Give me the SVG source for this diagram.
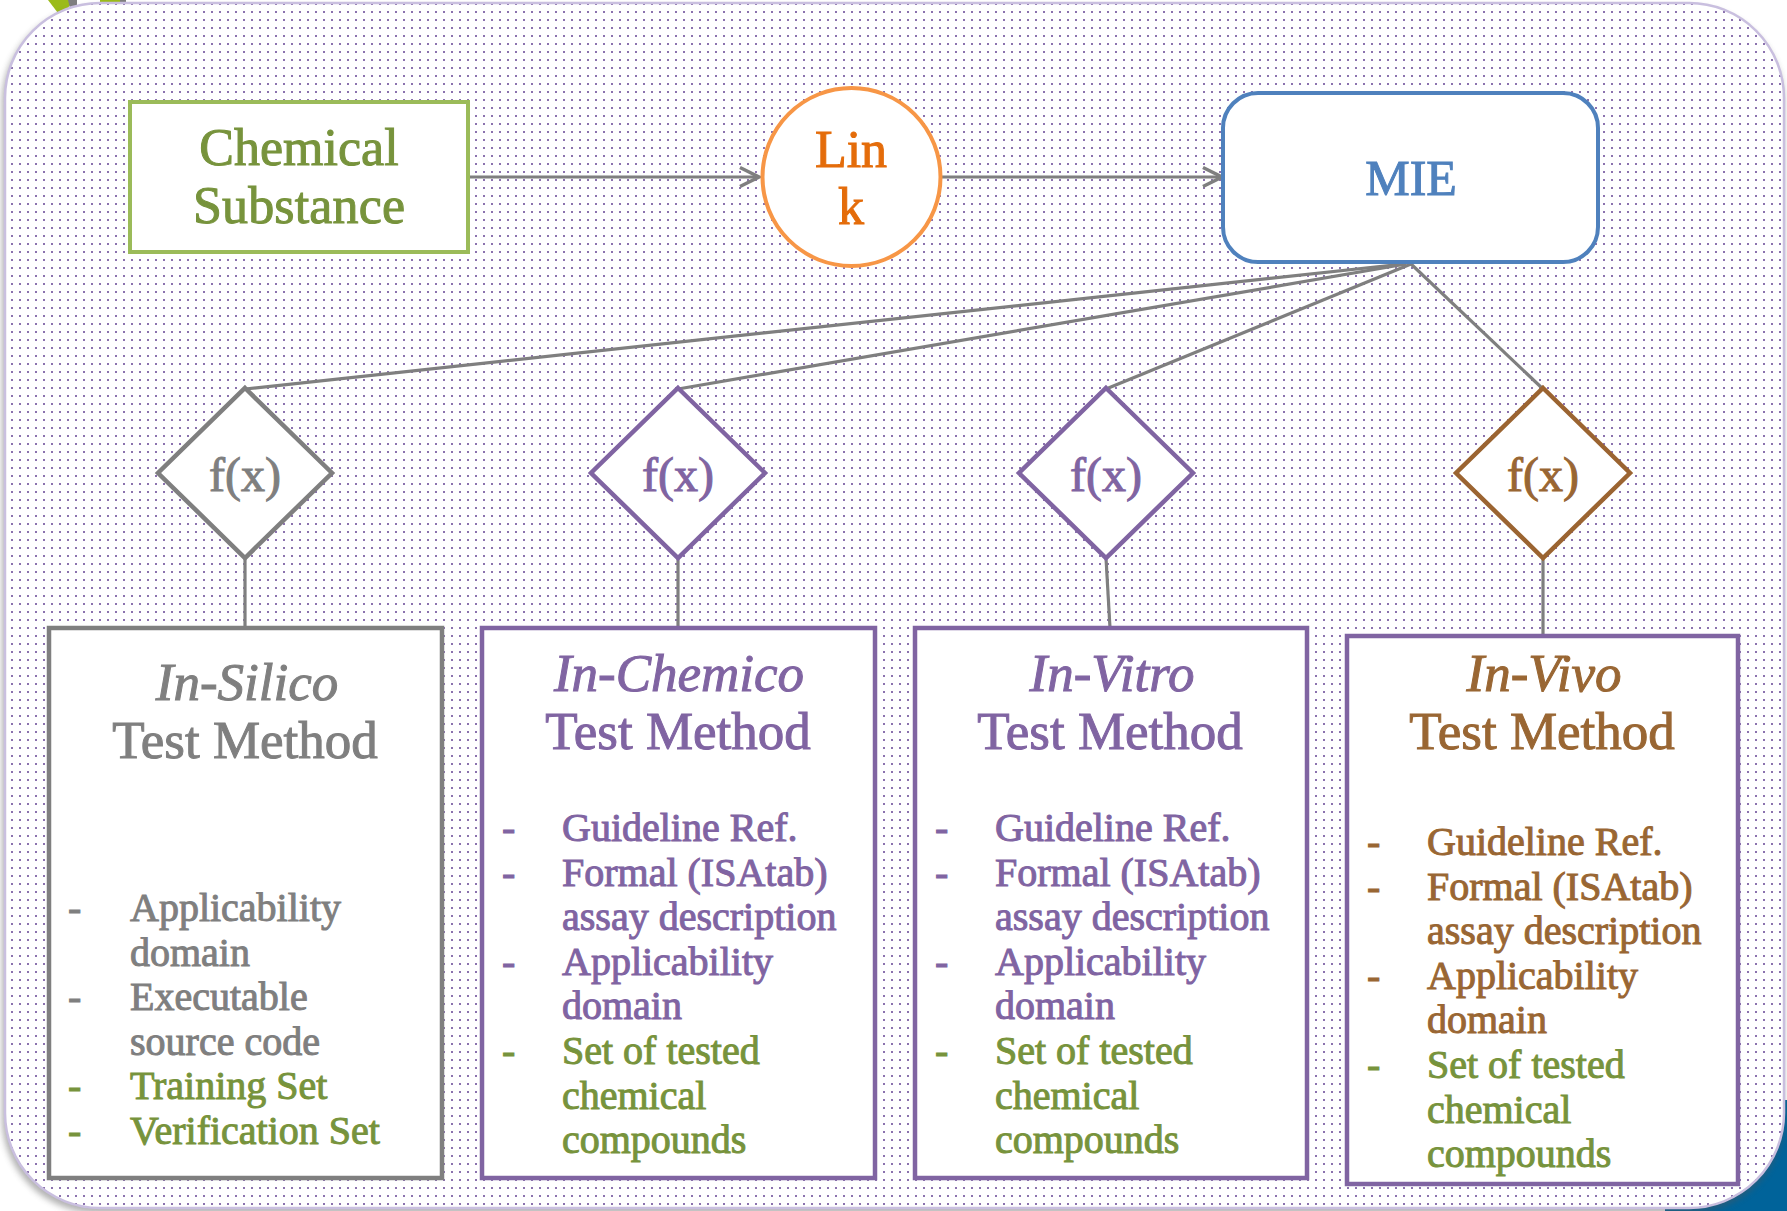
<svg xmlns="http://www.w3.org/2000/svg" width="1787" height="1211" viewBox="0 0 1787 1211">
<defs>
<pattern id="dots" width="8" height="8" patternUnits="userSpaceOnUse"><rect x="3" y="3" width="2" height="2" fill="#8b72ae"/></pattern>
<filter id="sh" x="-5%" y="-5%" width="110%" height="110%"><feGaussianBlur stdDeviation="3"/></filter>
<marker id="arr" markerUnits="userSpaceOnUse" markerWidth="24" markerHeight="24" viewBox="0 0 24 24" refX="21" refY="12" orient="auto"><path d="M2,2.5 L21,12 L2,21.5" fill="none" stroke="#7f7f7f" stroke-width="3.5"/></marker>
<style>
text{font-family:"Liberation Serif","Times New Roman",serif;stroke-width:1;paint-order:stroke}
.big{font-size:52px}
.hd{font-size:53px;text-anchor:middle}
.it{font-style:italic}
.fx{font-size:48px;text-anchor:middle}
.li{font-size:40px}
.gray{fill:#7f7f7f;stroke:#7f7f7f}
.pur{fill:#8064a2;stroke:#8064a2}
.grn{fill:#77933c;stroke:#77933c}
.brn{fill:#996633;stroke:#996633}
.org{fill:#e46c0a;stroke:#e46c0a}
.blu{fill:#4f81bd;stroke:#4f81bd}
.conn{stroke:#7f7f7f;stroke-width:3.2;fill:none}
.box{fill:#fff;stroke-width:4.5}
</style>
</defs>
<rect width="1787" height="1211" fill="#fff"/>
<!-- decorations outside the panel -->
<polygon points="48,0 74,0 61,17" fill="#9bbb1a"/>
<polygon points="68,0 77,0 77,14 70,8" fill="#7f7f7f"/>
<rect x="100" y="0" width="20" height="8" fill="#9bbb1a"/>
<rect x="120" y="0" width="6" height="8" fill="#7f7f7f"/>
<rect x="1665" y="1100" width="122" height="111" fill="#00639a"/>
<!-- panel -->
<rect x="2" y="7" width="1782" height="1206" rx="95" fill="#555" opacity="0.45" filter="url(#sh)"/>
<rect x="5" y="3" width="1779" height="1205" rx="95" fill="#fff"/>
<rect x="5" y="3" width="1779" height="1205" rx="95" fill="url(#dots)" stroke="#c9bfdf" stroke-width="2.5"/>

<g id="connectors">
<line class="conn" x1="468" y1="177" x2="759" y2="177" marker-end="url(#arr)"/>
<line class="conn" x1="942" y1="177" x2="1222" y2="177" marker-end="url(#arr)"/>
<line class="conn" x1="1403" y1="264" x2="245" y2="389"/>
<line class="conn" x1="1406" y1="264" x2="678" y2="389"/>
<line class="conn" x1="1411" y1="264" x2="1106" y2="389"/>
<line class="conn" x1="1411" y1="264" x2="1543" y2="389"/>
<line class="conn" x1="245" y1="558" x2="245" y2="628"/>
<line class="conn" x1="678" y1="558" x2="678" y2="628"/>
<line class="conn" x1="1106" y1="558" x2="1110" y2="628"/>
<line class="conn" x1="1543" y1="558" x2="1543" y2="636"/>
</g>

<g id="chemical-substance">
<rect x="130" y="102" width="338" height="150" fill="#fff" stroke="#9bbb59" stroke-width="4"/>
<text class="big grn" x="299" y="165" text-anchor="middle">Chemical</text>
<text class="big grn" x="299" y="223" text-anchor="middle" textLength="212" lengthAdjust="spacing">Substance</text>
</g>

<g id="link">
<circle cx="851.5" cy="177" r="89" fill="#fff" stroke="#f79646" stroke-width="4"/>
<text class="big org" x="851" y="167" text-anchor="middle">Lin</text>
<text class="big org" x="851" y="224" text-anchor="middle">k</text>
</g>

<g id="mie">
<rect x="1223" y="93" width="375" height="169" rx="35" fill="#fff" stroke="#4f81bd" stroke-width="4"/>
<text class="blu" x="1411" y="195" font-size="50" text-anchor="middle">MIE</text>
</g>

<g id="fx-silico">
<polygon points="245,388 332,473 245,558 158,473" fill="#fff" stroke="#7f7f7f" stroke-width="4.5"/>
<text class="fx gray" x="245" y="491">f(x)</text>
</g>
<g id="fx-chemico">
<polygon points="678,388 765,473 678,558 591,473" fill="#fff" stroke="#8064a2" stroke-width="4.5"/>
<text class="fx pur" x="678" y="491">f(x)</text>
</g>
<g id="fx-vitro">
<polygon points="1106,388 1193,473 1106,558 1019,473" fill="#fff" stroke="#8064a2" stroke-width="4.5"/>
<text class="fx pur" x="1106" y="491">f(x)</text>
</g>
<g id="fx-vivo">
<polygon points="1543,388 1630,473 1543,558 1456,473" fill="#fff" stroke="#9b6431" stroke-width="4.5"/>
<text class="fx brn" x="1543" y="491">f(x)</text>
</g>

<g id="in-silico">
<rect class="box" x="49" y="628" width="393" height="550" stroke="#7f7f7f"/>
<text class="hd it gray" x="247" y="700">In-Silico</text>
<text class="hd gray" x="245" y="758">Test Method</text>
<g class="li">
<text class="gray" x="68" y="921">-</text><text class="gray" x="130" y="921">Applicability</text>
<text class="gray" x="130" y="965.5">domain</text>
<text class="gray" x="68" y="1010">-</text><text class="gray" x="130" y="1010">Executable</text>
<text class="gray" x="130" y="1054.5">source code</text>
<text class="grn" x="68" y="1099">-</text><text class="grn" x="130" y="1099">Training Set</text>
<text class="grn" x="68" y="1143.5">-</text><text class="grn" x="130" y="1143.5">Verification Set</text>
</g>
</g>

<g id="in-chemico">
<rect class="box" x="482" y="628" width="393" height="550" stroke="#8064a2"/>
<text class="hd it pur" x="679" y="691">In-Chemico</text>
<text class="hd pur" x="678" y="749">Test Method</text>
<g class="li">
<text class="pur" x="502" y="841">-</text><text class="pur" x="562" y="841">Guideline Ref.</text>
<text class="pur" x="502" y="885.6">-</text><text class="pur" x="562" y="885.6">Formal (ISAtab)</text>
<text class="pur" x="562" y="930.2">assay description</text>
<text class="pur" x="502" y="974.8">-</text><text class="pur" x="562" y="974.8">Applicability</text>
<text class="pur" x="562" y="1019.4">domain</text>
<text class="grn" x="502" y="1064">-</text><text class="grn" x="562" y="1064">Set of tested</text>
<text class="grn" x="562" y="1108.6">chemical</text>
<text class="grn" x="562" y="1153.2">compounds</text>
</g>
</g>

<g id="in-vitro">
<rect class="box" x="915" y="628" width="392" height="550" stroke="#8064a2"/>
<text class="hd it pur" x="1112" y="691">In-Vitro</text>
<text class="hd pur" x="1110" y="749">Test Method</text>
<g class="li">
<text class="pur" x="935" y="841">-</text><text class="pur" x="995" y="841">Guideline Ref.</text>
<text class="pur" x="935" y="885.6">-</text><text class="pur" x="995" y="885.6">Formal (ISAtab)</text>
<text class="pur" x="995" y="930.2">assay description</text>
<text class="pur" x="935" y="974.8">-</text><text class="pur" x="995" y="974.8">Applicability</text>
<text class="pur" x="995" y="1019.4">domain</text>
<text class="grn" x="935" y="1064">-</text><text class="grn" x="995" y="1064">Set of tested</text>
<text class="grn" x="995" y="1108.6">chemical</text>
<text class="grn" x="995" y="1153.2">compounds</text>
</g>
</g>

<g id="in-vivo">
<rect class="box" x="1347" y="636" width="391" height="548" stroke="#8064a2"/>
<text class="hd it brn" x="1544" y="691">In-Vivo</text>
<text class="hd brn" x="1542" y="749">Test Method</text>
<g class="li">
<text class="brn" x="1367" y="855">-</text><text class="brn" x="1427" y="855">Guideline Ref.</text>
<text class="brn" x="1367" y="899.6">-</text><text class="brn" x="1427" y="899.6">Formal (ISAtab)</text>
<text class="brn" x="1427" y="944.2">assay description</text>
<text class="brn" x="1367" y="988.8">-</text><text class="brn" x="1427" y="988.8">Applicability</text>
<text class="brn" x="1427" y="1033.4">domain</text>
<text class="grn" x="1367" y="1078">-</text><text class="grn" x="1427" y="1078">Set of tested</text>
<text class="grn" x="1427" y="1122.6">chemical</text>
<text class="grn" x="1427" y="1167.2">compounds</text>
</g>
</g>
</svg>
